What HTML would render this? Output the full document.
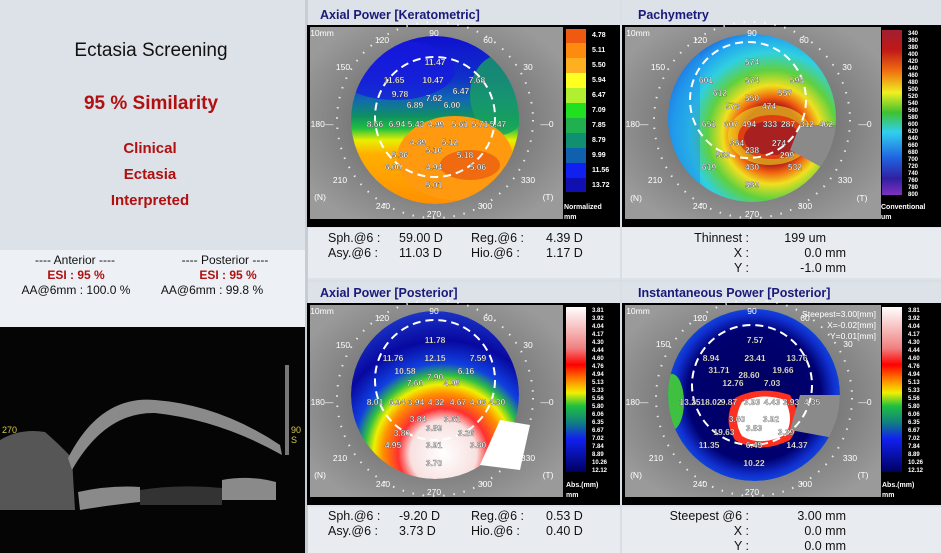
<!DOCTYPE html>
<html><head><meta charset="utf-8"><style>
body{margin:0;width:941px;height:553px;overflow:hidden;background:#d9dde4;font-family:"Liberation Sans","DejaVu Sans",sans-serif}
svg{display:block}
</style></head><body>
<svg width="941" height="553" viewBox="0 0 941 553" xmlns="http://www.w3.org/2000/svg" font-family="Liberation Sans, DejaVu Sans, sans-serif">
<defs>
<radialGradient id="eye" cx="0.5" cy="0.5" r="0.6"><stop offset="0" stop-color="#3a3a3a"/><stop offset="0.55" stop-color="#7a7a7a"/><stop offset="1" stop-color="#9a9a9a"/></radialGradient>
<linearGradient id="g1" x1="0" y1="0" x2="0" y2="1">
<stop offset="0" stop-color="#1010d0"/><stop offset="0.25" stop-color="#1030c8"/><stop offset="0.38" stop-color="#106ab0"/><stop offset="0.48" stop-color="#109060"/><stop offset="0.55" stop-color="#20c040"/><stop offset="0.62" stop-color="#e8f000"/><stop offset="0.7" stop-color="#ffb000"/><stop offset="1" stop-color="#ff9000"/></linearGradient>
<radialGradient id="g2" cx="0.62" cy="0.6" r="0.7">
<stop offset="0" stop-color="#a02020"/><stop offset="0.25" stop-color="#b01818"/><stop offset="0.32" stop-color="#f06010"/><stop offset="0.42" stop-color="#f0e020"/><stop offset="0.55" stop-color="#60d040"/><stop offset="0.7" stop-color="#30d0e0"/><stop offset="0.85" stop-color="#20a0f0"/><stop offset="1" stop-color="#2050d0"/></radialGradient>
<radialGradient id="g3" cx="0.55" cy="0.85" r="0.9">
<stop offset="0" stop-color="#ffffff"/><stop offset="0.22" stop-color="#f8e0e0"/><stop offset="0.3" stop-color="#ff3030"/><stop offset="0.4" stop-color="#ff9000"/><stop offset="0.46" stop-color="#f0f000"/><stop offset="0.52" stop-color="#30c040"/><stop offset="0.6" stop-color="#1040e0"/><stop offset="0.75" stop-color="#0808a0"/><stop offset="1" stop-color="#2040d0"/></radialGradient>
<radialGradient id="g4" cx="0.5" cy="0.5" r="0.55">
<stop offset="0" stop-color="#000060"/><stop offset="0.7" stop-color="#000070"/><stop offset="0.85" stop-color="#1030d0"/><stop offset="1" stop-color="#1060e0"/></radialGradient>
<linearGradient id="cb3" x1="0" y1="0" x2="0" y2="1"><stop offset="0" stop-color="#fff"/><stop offset="0.25" stop-color="#f08080"/><stop offset="0.35" stop-color="#ff0000"/><stop offset="0.45" stop-color="#ff9000"/><stop offset="0.52" stop-color="#f0f000"/><stop offset="0.6" stop-color="#20c040"/><stop offset="0.7" stop-color="#108080"/><stop offset="0.8" stop-color="#1020f0"/><stop offset="1" stop-color="#000060"/></linearGradient>
<linearGradient id="cb2" x1="0" y1="0" x2="0" y2="1"><stop offset="0" stop-color="#a02030"/><stop offset="0.12" stop-color="#c01818"/><stop offset="0.25" stop-color="#f07010"/><stop offset="0.38" stop-color="#f0f020"/><stop offset="0.5" stop-color="#40c030"/><stop offset="0.62" stop-color="#30d0f0"/><stop offset="0.78" stop-color="#2060e0"/><stop offset="0.9" stop-color="#3020a0"/><stop offset="1" stop-color="#8030c0"/></linearGradient>
<clipPath id="c1"><circle cx="435" cy="120" r="84"/></clipPath>
<clipPath id="c2"><circle cx="752" cy="118" r="84"/></clipPath>
<clipPath id="c3"><circle cx="435" cy="395" r="84"/></clipPath>
<clipPath id="c4"><circle cx="754" cy="395" r="86"/></clipPath>
</defs>

<!-- left panel -->
<rect x="0" y="0" width="305" height="250" fill="#dde1e8"/>
<rect x="0" y="250" width="305" height="77" fill="#edf0f5"/>
<text x="151" y="56" font-size="19" text-anchor="middle" fill="#111">Ectasia Screening</text>
<text x="151" y="109" font-size="19" font-weight="bold" text-anchor="middle" fill="#b01010">95 % Similarity</text>
<g font-size="15" font-weight="bold" text-anchor="middle" fill="#b01010">
<text x="150" y="153">Clinical</text><text x="150" y="179">Ectasia</text><text x="150" y="205">Interpreted</text></g>
<g font-size="12" text-anchor="middle" fill="#111">
<text x="75" y="264">---- Anterior ----</text><text x="225" y="264">---- Posterior ----</text>
<text x="76" y="294">AA@6mm : 100.0 %</text><text x="212" y="294">AA@6mm : 99.8 %</text></g>
<g font-size="12" font-weight="bold" text-anchor="middle" fill="#b01010"><text x="76" y="279">ESI : 95 %</text><text x="228" y="279">ESI : 95 %</text></g>
<rect x="0" y="327" width="305" height="226" fill="#050505"/>
<path d="M0 440 Q20 428 45 432 Q60 445 72 458 L75 510 L0 510Z" fill="#6a6a6a" opacity="0.8"/>
<path d="M68 458 Q100 395 155 400 Q220 405 280 445 L282 455 Q220 420 155 413 Q105 412 72 470Z" fill="#8a8a8a"/>
<path d="M78 492 Q110 485 140 487 L140 502 Q110 505 80 510Z" fill="#8a8a8a"/>
<path d="M222 480 Q250 475 276 482 L276 500 L222 500Z" fill="#8a8a8a"/>
<path d="M140 490 Q180 484 222 488 L222 505 L140 505Z" fill="#333"/>
<rect x="285" y="365" width="4" height="90" fill="#777"/>
<text x="2" y="433" font-size="9" fill="#d8c850">270</text><text x="291" y="433" font-size="9" fill="#d8c850">90</text><text x="291" y="443" font-size="9" fill="#d8c850">S</text>
<rect x="305" y="0" width="3" height="553" fill="#c8ccd3"/>

<g>
<rect x="308" y="0" width="312" height="280" fill="#dde1e8"/>
<rect x="622" y="0" width="319" height="280" fill="#dde1e8"/>
<rect x="308" y="282" width="312" height="271" fill="#dde1e8"/>
<rect x="622" y="282" width="319" height="271" fill="#dde1e8"/>
<rect x="308" y="228" width="312" height="50" fill="#e8ebf0"/>
<rect x="622" y="228" width="319" height="50" fill="#e8ebf0"/>
<rect x="308" y="507" width="312" height="46" fill="#e8ebf0"/>
<rect x="622" y="507" width="319" height="46" fill="#e8ebf0"/>
</g>
<g font-size="12.5" font-weight="bold" fill="#1a1a7a">
<text x="320" y="19">Axial Power [Keratometric]</text>
<text x="638" y="19">Pachymetry</text>
<text x="320" y="297">Axial Power [Posterior]</text>
<text x="638" y="297">Instantaneous Power [Posterior]</text>
</g>

<!-- Panel 1 -->
<rect x="307" y="25" width="313" height="202" fill="#000"/>
<rect x="310" y="27" width="253" height="192" fill="url(#eye)"/>
<g clip-path="url(#c1)">
<circle cx="435" cy="120" r="84" fill="url(#g1)"/>
<ellipse cx="500" cy="95" rx="30" ry="40" fill="#18a060" opacity="0.8"/>
<ellipse cx="455" cy="158" rx="58" ry="42" fill="#ff9a10"/>
<ellipse cx="470" cy="165" rx="30" ry="15" fill="#f06a10"/>
<ellipse cx="395" cy="70" rx="60" ry="30" fill="#1818e0" opacity="0.7"/>
</g>
<circle cx="435" cy="117" r="60" fill="none" stroke="#fff" stroke-width="2" stroke-dasharray="8 5"/>
<circle cx="435" cy="120" r="98" fill="none" stroke="#fff" stroke-width="2" stroke-dasharray="1.5 8.8" opacity="0.8"/>
<g fill="#fff" font-size="8.5" text-anchor="middle">
<text x="434" y="36">90</text><text x="382" y="43">120</text><text x="488" y="43">60</text><text x="343" y="70">150</text><text x="528" y="70">30</text><text x="322" y="127">180—</text><text x="547" y="127">—0</text><text x="340" y="183">210</text><text x="528" y="183">330</text><text x="383" y="209">240</text><text x="485" y="209">300</text><text x="434" y="217">270</text><text x="320" y="200">(N)</text><text x="548" y="200">(T)</text><text x="322" y="36">10mm</text>
</g>
<g fill="#fff" font-size="8.5" font-weight="bold" text-anchor="middle" stroke="#333" stroke-width="0.3">
<text x="435" y="65">11.47</text><text x="394" y="83">11.65</text><text x="433" y="83">10.47</text><text x="477" y="83">7.68</text><text x="400" y="97">9.78</text><text x="461" y="94">6.47</text><text x="434" y="101">7.62</text><text x="415" y="108">6.89</text><text x="452" y="108">6.00</text><text x="375" y="127">8.66</text><text x="397" y="127">6.94</text><text x="416" y="127">5.43</text><text x="436" y="127">4.99</text><text x="460" y="127">5.61</text><text x="480" y="127">5.71</text><text x="498" y="127">5.47</text><text x="418" y="145">4.89</text><text x="450" y="145">5.12</text><text x="434" y="153">5.16</text><text x="400" y="158">5.36</text><text x="465" y="158">5.18</text><text x="393" y="170">6.00</text><text x="434" y="170">4.94</text><text x="478" y="170">5.06</text><text x="434" y="188">5.01</text>
</g>
<g>
<rect x="566" y="29" width="20" height="14" fill="#f05a10"/><rect x="566" y="43" width="20" height="15" fill="#ff8a10"/><rect x="566" y="58" width="20" height="15" fill="#ffb020"/><rect x="566" y="73" width="20" height="15" fill="#ffff20"/><rect x="566" y="88" width="20" height="15" fill="#b0f030"/><rect x="566" y="103" width="20" height="15" fill="#20e020"/><rect x="566" y="118" width="20" height="15" fill="#20b050"/><rect x="566" y="133" width="20" height="15" fill="#109070"/><rect x="566" y="148" width="20" height="15" fill="#1060b0"/><rect x="566" y="163" width="20" height="15" fill="#1020f0"/><rect x="566" y="178" width="20" height="14" fill="#1010b0"/>
</g>
<g fill="#fff" font-size="7" font-weight="bold"><text x="592" y="37">4.78</text><text x="592" y="52">5.11</text><text x="592" y="67">5.50</text><text x="592" y="82">5.94</text><text x="592" y="97">6.47</text><text x="592" y="112">7.09</text><text x="592" y="127">7.85</text><text x="592" y="142">8.79</text><text x="592" y="157">9.99</text><text x="592" y="172">11.56</text><text x="592" y="187">13.72</text><text x="564" y="209">Normalized</text><text x="564" y="219">mm</text></g>
<g font-size="12.5" fill="#111">
<text x="328" y="242">Sph.@6 :</text><text x="399" y="242">59.00 D</text><text x="471" y="242">Reg.@6 :</text><text x="546" y="242">4.39 D</text>
<text x="328" y="257">Asy.@6 :</text><text x="399" y="257">11.03 D</text><text x="471" y="257">Hio.@6 :</text><text x="546" y="257">1.17 D</text>
</g>

<!-- Panel 2 -->
<rect x="622" y="25" width="319" height="202" fill="#000"/>
<rect x="625" y="27" width="256" height="192" fill="url(#eye)"/>
<g clip-path="url(#c2)">
<circle cx="752" cy="118" r="84" fill="url(#g2)"/>
<rect x="660" y="30" width="40" height="180" fill="#2090e8" opacity="0.5"/>
<ellipse cx="770" cy="135" rx="42" ry="30" fill="#f0e020" opacity="0.6"/>
<ellipse cx="772" cy="137" rx="34" ry="22" fill="#e04010"/>
<ellipse cx="772" cy="138" rx="28" ry="17" fill="#a82020"/>
<path d="M800 125 L845 125 L845 180 L790 150Z" fill="#8a8a8a"/>
</g>
<circle cx="748" cy="100" r="58" fill="none" stroke="#fff" stroke-width="2" stroke-dasharray="8 5"/>
<circle cx="752" cy="120" r="98" fill="none" stroke="#fff" stroke-width="2" stroke-dasharray="1.5 8.8" opacity="0.8"/>
<g fill="#fff" font-size="8.5" text-anchor="middle">
<text x="752" y="36">90</text><text x="700" y="43">120</text><text x="804" y="43">60</text><text x="658" y="70">150</text><text x="847" y="70">30</text><text x="637" y="127">180—</text><text x="865" y="127">—0</text><text x="655" y="183">210</text><text x="845" y="183">330</text><text x="700" y="209">240</text><text x="805" y="209">300</text><text x="752" y="217">270</text><text x="636" y="201">(N)</text><text x="862" y="201">(T)</text><text x="638" y="36">10mm</text>
</g>
<g fill="#fff" font-size="8.5" font-weight="bold" text-anchor="middle" stroke="#333" stroke-width="0.3">
<text x="752" y="65">574</text><text x="706" y="83">601</text><text x="752" y="83">574</text><text x="797" y="83">593</text><text x="720" y="96">612</text><text x="785" y="96">557</text><text x="752" y="101">550</text><text x="733" y="109">573</text><text x="769" y="109">474</text><text x="709" y="127">651</text><text x="731" y="127">607</text><text x="749" y="127">494</text><text x="770" y="127">333</text><text x="788" y="127">287</text><text x="807" y="127">312</text><text x="826" y="127">462</text><text x="737" y="146">354</text><text x="779" y="146">274</text><text x="752" y="153">238</text><text x="723" y="158">533</text><text x="787" y="158">299</text><text x="709" y="170">619</text><text x="752" y="170">430</text><text x="795" y="170">532</text><text x="752" y="188">559</text>
</g>
<rect x="882" y="30" width="20" height="165" fill="url(#cb2)"/>
<g fill="#fff" font-size="6" font-weight="bold"><text x="908" y="35">340</text><text x="908" y="42">360</text><text x="908" y="49">380</text><text x="908" y="56">400</text><text x="908" y="63">420</text><text x="908" y="70">440</text><text x="908" y="77">460</text><text x="908" y="84">480</text><text x="908" y="91">500</text><text x="908" y="98">520</text><text x="908" y="105">540</text><text x="908" y="112">560</text><text x="908" y="119">580</text><text x="908" y="126">600</text><text x="908" y="133">620</text><text x="908" y="140">640</text><text x="908" y="147">660</text><text x="908" y="154">680</text><text x="908" y="161">700</text><text x="908" y="168">720</text><text x="908" y="175">740</text><text x="908" y="182">760</text><text x="908" y="189">780</text><text x="908" y="196">800</text></g>
<g fill="#fff" font-size="7" font-weight="bold"><text x="881" y="209">Conventional</text><text x="881" y="219">um</text></g>
<g font-size="12.5" fill="#111">
<text x="749" y="242" text-anchor="end">Thinnest :</text><text x="826" y="242" text-anchor="end">199 um</text>
<text x="749" y="257" text-anchor="end">X :</text><text x="846" y="257" text-anchor="end">0.0 mm</text>
<text x="749" y="272" text-anchor="end">Y :</text><text x="846" y="272" text-anchor="end">-1.0 mm</text>
</g>

<!-- Panel 3 -->
<rect x="307" y="303" width="313" height="202" fill="#000"/>
<rect x="310" y="305" width="253" height="192" fill="url(#eye)"/>
<g clip-path="url(#c3)">
<circle cx="435" cy="395" r="84" fill="url(#g3)"/>
</g>
<path d="M500 420 L530 425 L520 470 L480 465Z" fill="#fff"/>
<circle cx="435" cy="380" r="60" fill="none" stroke="#fff" stroke-width="2" stroke-dasharray="8 5"/>
<circle cx="435" cy="398" r="98" fill="none" stroke="#fff" stroke-width="2" stroke-dasharray="1.5 8.8" opacity="0.8"/>
<g fill="#fff" font-size="8.5" text-anchor="middle">
<text x="434" y="314">90</text><text x="382" y="321">120</text><text x="488" y="321">60</text><text x="343" y="348">150</text><text x="528" y="348">30</text><text x="322" y="405">180—</text><text x="547" y="405">—0</text><text x="340" y="461">210</text><text x="528" y="461">330</text><text x="383" y="487">240</text><text x="485" y="487">300</text><text x="434" y="495">270</text><text x="320" y="478">(N)</text><text x="548" y="478">(T)</text><text x="322" y="314">10mm</text>
</g>
<g fill="#fff" font-size="8.5" font-weight="bold" text-anchor="middle" stroke="#333" stroke-width="0.3">
<text x="435" y="343">11.78</text><text x="393" y="361">11.76</text><text x="435" y="361">12.15</text><text x="478" y="361">7.59</text><text x="405" y="374">10.58</text><text x="466" y="374">6.16</text><text x="435" y="380">7.90</text><text x="415" y="386">7.60</text><text x="452" y="386">4.95</text><text x="375" y="405">8.01</text><text x="397" y="405">6.94</text><text x="416" y="405">3.94</text><text x="436" y="405">4.32</text><text x="458" y="405">4.67</text><text x="478" y="405">4.03</text><text x="497" y="405">4.30</text><text x="418" y="422">3.84</text><text x="452" y="422">3.61</text><text x="434" y="431">3.89</text><text x="402" y="436">3.80</text><text x="466" y="436">3.26</text><text x="393" y="448">4.95</text><text x="434" y="448">3.91</text><text x="478" y="448">3.80</text><text x="434" y="466">3.70</text>
</g>
<rect x="566" y="307" width="20" height="165" fill="url(#cb3)"/>
<g fill="#fff" font-size="6" font-weight="bold"><text x="592" y="312">3.81</text><text x="592" y="320">3.92</text><text x="592" y="328">4.04</text><text x="592" y="336">4.17</text><text x="592" y="344">4.30</text><text x="592" y="352">4.44</text><text x="592" y="360">4.60</text><text x="592" y="368">4.76</text><text x="592" y="376">4.94</text><text x="592" y="384">5.13</text><text x="592" y="392">5.33</text><text x="592" y="400">5.56</text><text x="592" y="408">5.80</text><text x="592" y="416">6.06</text><text x="592" y="424">6.35</text><text x="592" y="432">6.67</text><text x="592" y="440">7.02</text><text x="592" y="448">7.84</text><text x="592" y="456">8.89</text><text x="592" y="464">10.26</text><text x="592" y="472">12.12</text></g>
<g fill="#fff" font-size="7" font-weight="bold"><text x="566" y="487">Abs.(mm)</text><text x="566" y="497">mm</text></g>
<g font-size="12.5" fill="#111">
<text x="328" y="520">Sph.@6 :</text><text x="399" y="520">-9.20 D</text><text x="471" y="520">Reg.@6 :</text><text x="546" y="520">0.53 D</text>
<text x="328" y="535">Asy.@6 :</text><text x="399" y="535">3.73 D</text><text x="471" y="535">Hio.@6 :</text><text x="546" y="535">0.40 D</text>
</g>

<!-- Panel 4 -->
<rect x="622" y="303" width="319" height="202" fill="#000"/>
<rect x="625" y="305" width="256" height="192" fill="url(#eye)"/>
<g clip-path="url(#c4)">
<circle cx="754" cy="395" r="86" fill="url(#g4)"/>
<ellipse cx="672" cy="402" rx="12" ry="28" fill="#40c040"/>
<path d="M735 398 Q760 385 790 395 Q805 420 790 440 Q760 455 735 440 Q722 420 735 398Z" fill="#ff3020"/>
<path d="M742 402 Q762 392 785 400 Q795 420 785 435 Q760 447 742 436 Q732 420 742 402Z" fill="#fff"/>
<path d="M800 395 L845 395 L845 440 L790 430Z" fill="#8a8a8a"/>
</g>
<circle cx="752" cy="385" r="60" fill="none" stroke="#fff" stroke-width="2" stroke-dasharray="8 5"/>
<circle cx="754" cy="398" r="98" fill="none" stroke="#fff" stroke-width="2" stroke-dasharray="1.5 8.8" opacity="0.8"/>
<g fill="#fff" font-size="8.5" text-anchor="middle">
<text x="752" y="314">90</text><text x="700" y="321">120</text><text x="805" y="321">60</text><text x="663" y="347">150</text><text x="848" y="347">30</text><text x="637" y="405">180—</text><text x="865" y="405">—0</text><text x="656" y="461">210</text><text x="850" y="461">330</text><text x="700" y="487">240</text><text x="805" y="487">300</text><text x="752" y="495">270</text><text x="636" y="478">(N)</text><text x="863" y="478">(T)</text><text x="638" y="314">10mm</text>
<text x="876" y="317" text-anchor="end">Steepest=3.00[mm]</text><text x="876" y="328" text-anchor="end">X=-0.02[mm]</text><text x="876" y="339" text-anchor="end">Y=0.01[mm]</text>
</g>
<g fill="#fff" font-size="8.5" font-weight="bold" text-anchor="middle" stroke="#333" stroke-width="0.3">
<text x="755" y="343">7.57</text><text x="711" y="361">8.94</text><text x="755" y="361">23.41</text><text x="797" y="361">13.76</text><text x="719" y="373">31.71</text><text x="783" y="373">19.66</text><text x="749" y="378">28.60</text><text x="733" y="386">12.76</text><text x="772" y="386">7.03</text><text x="690" y="405">13.25</text><text x="711" y="405">18.02</text><text x="729" y="405">9.87</text><text x="752" y="405">3.93</text><text x="772" y="405">4.43</text><text x="791" y="405">3.93</text><text x="812" y="405">4.35</text><text x="737" y="422">3.60</text><text x="771" y="422">3.92</text><text x="754" y="431">3.83</text><text x="724" y="435">19.63</text><text x="786" y="435">3.39</text><text x="709" y="448">11.35</text><text x="754" y="448">6.45</text><text x="797" y="448">14.37</text><text x="754" y="466">10.22</text>
</g>
<rect x="882" y="307" width="20" height="165" fill="url(#cb3)"/>
<g fill="#fff" font-size="6" font-weight="bold"><text x="908" y="312">3.81</text><text x="908" y="320">3.92</text><text x="908" y="328">4.04</text><text x="908" y="336">4.17</text><text x="908" y="344">4.30</text><text x="908" y="352">4.44</text><text x="908" y="360">4.60</text><text x="908" y="368">4.76</text><text x="908" y="376">4.94</text><text x="908" y="384">5.13</text><text x="908" y="392">5.33</text><text x="908" y="400">5.56</text><text x="908" y="408">5.80</text><text x="908" y="416">6.06</text><text x="908" y="424">6.35</text><text x="908" y="432">6.67</text><text x="908" y="440">7.02</text><text x="908" y="448">7.84</text><text x="908" y="456">8.89</text><text x="908" y="464">10.26</text><text x="908" y="472">12.12</text></g>
<g fill="#fff" font-size="7" font-weight="bold"><text x="882" y="487">Abs.(mm)</text><text x="882" y="497">mm</text></g>
<g font-size="12.5" fill="#111">
<text x="749" y="520" text-anchor="end">Steepest @6 :</text><text x="846" y="520" text-anchor="end">3.00 mm</text>
<text x="749" y="535" text-anchor="end">X :</text><text x="846" y="535" text-anchor="end">0.0 mm</text>
<text x="749" y="550" text-anchor="end">Y :</text><text x="846" y="550" text-anchor="end">0.0 mm</text>
</g>
</svg>
</body></html>
